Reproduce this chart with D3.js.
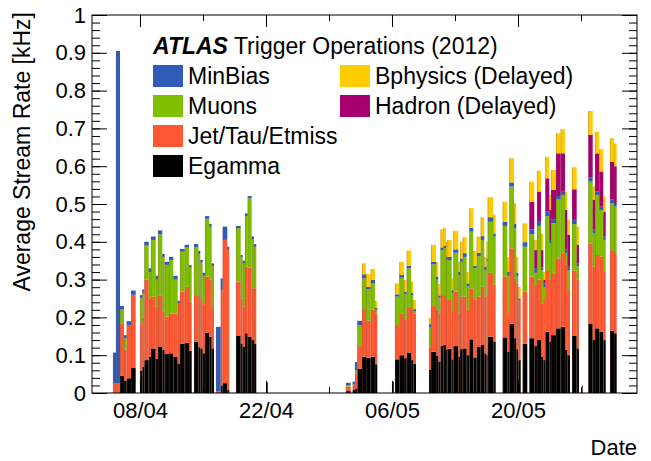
<!DOCTYPE html>
<html><head><meta charset="utf-8">
<script src="https://cdn.jsdelivr.net/npm/d3@7"></script>
<style>body{margin:0;background:#fff}svg{display:block}text{font-family:"Liberation Sans",Arial,Helvetica,sans-serif}</style>
</head><body><svg id="c" width="651" height="461"></svg>
<script>
// Run boundaries, in days of April 2012 (8.0 = 8 April 00:00; 31.0 = 1 May)
const runStart = [5.0,5.333,5.778,6.222,6.522,7.0,8.0,8.256,8.478,8.967,9.222,9.744,10.0,10.478,10.744,11.222,11.7,12.189,12.444,12.967,13.444,14.0,14.478,14.7,14.967,15.222,15.7,15.967,16.444,16.967,17.189,17.7,18.667,19.189,19.411,19.667,19.967,20.411,20.667,22.111,30.889,31.633,31.889,32.144,32.667,33.111,33.633,34.111,36.111,36.333,36.811,37.333,37.633,38.111,38.367,40.111,40.333,40.889,41.144,41.389,41.7,42.0,42.144,42.633,42.811,43.367,43.556,43.856,44.3,44.589,45.033,45.411,45.856,46.256,46.5,46.633,47.256,48.3,48.811,49.033,49.556,49.811,50.033,50.522,51.256,51.811,52.111,52.556,52.811,53.033,53.478,53.667,54.222,54.744,55.222,55.478,56.0,56.522,57.111,57.811,58.3,58.556,59.033,59.478,60.222,60.667];
const runEnd = [5.333,5.778,6.222,6.522,7.0,7.522,8.256,8.478,8.967,9.222,9.744,10.0,10.478,10.744,11.222,11.7,12.189,12.444,12.967,13.444,13.744,14.478,14.7,14.967,15.222,15.7,15.967,16.222,16.967,17.189,17.7,17.922,19.189,19.411,19.667,19.967,20.411,20.667,20.922,22.2,31.411,31.889,32.144,32.667,33.111,33.633,34.111,34.367,36.2,36.811,37.333,37.633,38.111,38.367,38.667,40.333,40.889,41.144,41.389,41.7,42.0,42.144,42.633,42.811,43.367,43.556,43.856,44.3,44.589,45.033,45.411,45.856,46.256,46.5,46.633,47.256,47.522,48.811,49.033,49.556,49.811,50.033,50.3,51.033,51.811,52.111,52.556,52.811,53.033,53.478,53.667,54.222,54.744,55.222,55.478,55.778,56.522,56.778,57.178,58.3,58.556,59.033,59.478,59.744,60.667,60.967];

// Average stream rates [kHz] per run
const egamma = [0,0,.046,.033,.039,.066,.059,.070,.087,.096,.118,.090,.123,.114,.103,.105,.096,.078,.130,.133,.112,.136,.121,.118,.105,.160,.149,.118,0,.020,.026,.008,.152,.131,.123,.158,.149,.140,.131,.028,.005,.008,.012,.064,.096,.093,.096,.076,.030,.089,.100,.092,.107,.087,.077,.061,.109,.098,.083,.125,.127,.115,.117,.089,.124,.096,.116,.118,.100,.142,.094,.123,.127,.105,.100,.149,.136,.147,.109,.183,.145,.116,.087,.130,.145,.124,.140,.096,.087,.162,.136,.153,.171,.175,.114,.100,.151,.118,.020,.184,.140,.171,.162,.140,.165,.158];
const jetTauEtmiss = [.026,.025,.138,.082,.141,.194,.125,.130,.213,.154,.137,.138,.134,.101,.099,.105,.114,.159,.138,.148,.130,.123,.138,.128,.130,.148,.151,.110,.005,.252,.379,.370,.143,.119,.105,.176,.183,.137,.146,0,.012,.012,.040,.060,.126,.098,.125,.134,0,.091,.111,.101,.121,.133,.133,.062,.121,.122,.127,.134,.132,.131,.129,.126,.144,.114,.139,.137,.120,.135,.154,.132,.154,.150,.160,.169,.150,.161,.102,.200,.158,.174,.159,.138,.163,.162,.160,.141,.159,.163,.164,.164,.185,.195,.225,.172,.173,.182,0,.212,.194,.194,.199,.180,.213,.212];
const muons = [0,0,.037,.030,0,0,.066,.065,.090,.070,.150,.072,.163,.145,.137,.142,.090,0,.106,.104,.090,.127,.109,.099,.075,.153,.140,.108,0,0,0,0,.141,.110,.115,.134,.183,.129,.110,0,.004,.002,.008,.056,.081,.083,.069,.010,0,.075,.094,.069,.102,.039,.006,.051,.110,.080,.042,.119,.124,.106,.106,.050,.103,.102,.092,.105,.062,.150,.082,.107,.124,.070,.090,.135,.128,.134,.099,.163,.133,.018,0,.119,.112,.032,.142,.088,.034,.143,.096,.132,.156,.154,.031,.053,.123,.035,0,.163,.088,.159,.123,.085,.124,.123];
const minBias = [.081,.880,.009,.008,.010,.011,.009,.009,.010,.010,.009,.010,.010,.008,.008,.008,.010,.007,.007,.007,.006,.008,.008,.007,.008,.007,.007,.007,.170,.031,.035,.009,.006,.005,.007,.007,.006,.008,.007,0,.006,.008,.022,.011,.011,.007,.009,.005,0,.006,.007,.006,.006,.006,.006,.008,.007,.008,.006,.007,.007,.008,.008,.007,.009,.008,.009,.010,.008,.010,.006,.009,.010,.009,.006,.012,.008,.011,.011,.011,.011,.010,.004,.012,.013,.012,.011,.007,.010,.012,.009,.011,.009,.010,.010,.009,.011,.008,0,.011,.011,.009,.009,.009,.010,.007];
const hadron = [0,0,0,0,0,0,0,0,0,0,0,0,0,0,0,0,0,0,0,0,0,0,0,0,0,0,0,0,0,0,0,0,0,0,0,0,0,0,0,0,0,0,0,0,0,0,0,0,0,0,0,0,0,0,0,0,0,0,0,0,0,0,0,0,0,0,0,0,0,0,0,0,0,0,0,0,0,0,0,0,0,0,0,0,.073,.048,.080,.046,.010,.088,.079,.077,.113,.100,.104,.084,.081,.049,0,.113,.078,.101,.093,.066,.100,.100];
const bphysics = [0,0,0,0,0,0,0,0,0,0,0,0,0,0,0,0,0,0,0,0,0,0,0,0,0,0,0,0,0,0,0,0,0,0,0,0,0,0,0,0,0,0,0,0,.029,.034,.029,.019,0,.029,.035,.031,.041,.030,.024,.016,.045,.039,.030,.048,.047,.040,.045,.031,.049,.027,.044,.042,.030,.052,.040,.043,.050,.026,.044,.053,.049,.053,.038,.064,.055,.043,.031,.050,.053,.027,.055,.044,.020,.057,.040,.053,.053,.064,.049,.040,.058,.048,0,.063,.035,.057,.059,.040,.062,.060];

const seriesKeys = ["egamma","jet","muons","minbias","hadron","bphys"];
const seriesLabels = {minbias:"MinBias",muons:"Muons",jet:"Jet/Tau/Etmiss",egamma:"Egamma",bphys:"Bphysics (Delayed)",hadron:"Hadron (Delayed)"};
const seriesColors = {egamma:"#000000",jet:"#ff5833",muons:"#7fbf00",minbias:"#2e5cb8",hadron:"#a8006e",bphys:"#ffcc00"};
const legendCol1 = ["minbias","muons","jet","egamma"];
const legendCol2 = ["bphys","hadron"];

const xDomainDays = [2.667, 63.222];
const xMajorTicks = ["2012-04-08","2012-04-22","2012-05-06","2012-05-20"];
const xMinorTicks = ["2012-04-01","2012-04-15","2012-04-29","2012-05-13","2012-05-27"];
const yMajorTicks = [0,0.1,0.2,0.3,0.4,0.5,0.6,0.7,0.8,0.9,1];

const dayToDate = d => new Date(Date.UTC(2012,3,1) + (d-1)*864e5);
const rows = runStart.map((s,i)=>({start:dayToDate(s), end:dayToDate(runEnd[i]),
  egamma:egamma[i], jet:jetTauEtmiss[i], muons:muons[i], minbias:minBias[i], hadron:hadron[i], bphys:bphysics[i]}));

const L=92, R=637, T=15, B=393;
const svg = d3.select("#c");
const x = d3.scaleUtc().domain(xDomainDays.map(dayToDate)).range([L,R]);
const y = d3.scaleLinear().domain([0,1]).range([B,T]);

const stacked = d3.stack().keys(seriesKeys)(rows);
const g = svg.append("g");
stacked.forEach(layer=>{
  g.append("g").attr("fill",seriesColors[layer.key]).selectAll("rect").data(layer).join("rect")
    .attr("x",d=>x(d.data.start)).attr("width",d=>Math.max(0.6,x(d.data.end)-x(d.data.start)))
    .attr("y",d=>y(d[1])).attr("height",d=>Math.max(0,y(d[0])-y(d[1])));
});
// thin histogram edges
const topLayer = stacked[stacked.length-1];
g.append("g").selectAll("line").data(topLayer).join("line")
  .attr("x1",d=>x(d.data.start)+0.3).attr("x2",d=>x(d.data.start)+0.3)
  .attr("y1",y(0)).attr("y2",d=>y(d[1]))
  .attr("stroke","#7a5a48").attr("stroke-width",0.6).attr("stroke-opacity",0.55);

// axes
const fs = "22px", fl = "23px";
function style(sel){ sel.select(".domain").remove(); sel.selectAll("line").attr("stroke","#000"); sel.selectAll("text").attr("font-size",fs).attr("fill","#000").attr("font-family",'"Liberation Sans",Arial,sans-serif'); }
svg.append("g").attr("transform",`translate(${L},0)`).call(d3.axisLeft(y).tickValues(yMajorTicks).tickSize(-15).tickPadding(6).tickFormat(d3.format("~g"))).call(style);
svg.append("g").attr("transform",`translate(${L},0)`).call(d3.axisLeft(y).tickValues(d3.range(0,1.0001,0.02)).tickSize(-8).tickFormat("")).call(style);
svg.append("g").attr("transform",`translate(${R},0)`).call(d3.axisRight(y).tickValues(yMajorTicks).tickSize(-15).tickFormat("")).call(style);
svg.append("g").attr("transform",`translate(${R},0)`).call(d3.axisRight(y).tickValues(d3.range(0,1.0001,0.02)).tickSize(-8).tickFormat("")).call(style);
const xMaj = xMajorTicks.map(s=>new Date(s+"T00:00:00Z"));
const xMin = xMinorTicks.map(s=>new Date(s+"T00:00:00Z")).filter(d=>d>=x.domain()[0]&&d<=x.domain()[1]);
svg.append("g").attr("transform",`translate(0,${B})`).call(d3.axisBottom(x).tickValues(xMaj).tickSize(-12).tickPadding(9).tickFormat(d3.utcFormat("%d/%m"))).call(style);
svg.append("g").attr("transform",`translate(0,${B})`).call(d3.axisBottom(x).tickValues(xMin).tickSize(-6).tickFormat("")).call(style);
svg.append("g").attr("transform",`translate(0,${T})`).call(d3.axisTop(x).tickValues(xMaj).tickSize(-12).tickFormat("")).call(style);
svg.append("g").attr("transform",`translate(0,${T})`).call(d3.axisTop(x).tickValues(xMin).tickSize(-6).tickFormat("")).call(style);
svg.append("rect").attr("x",L).attr("y",T).attr("width",R-L).attr("height",B-T).attr("fill","none").attr("stroke","#000").attr("stroke-width",1);

// axis titles
svg.append("text").attr("transform","translate(30,12) rotate(-90)").attr("text-anchor","end").attr("font-size",fl).text("Average Stream Rate [kHz]");
svg.append("text").attr("x",637).attr("y",455).attr("text-anchor","end").attr("font-size",fs).text("Date");

// legend
const title = svg.append("text").attr("x",153).attr("y",54).attr("font-size",fl);
title.append("tspan").attr("font-weight","bold").attr("font-style","italic").text("ATLAS");
title.append("tspan").text(" Trigger Operations (2012)");
function legendCol(keys, bx){
  keys.forEach((k,i)=>{
    svg.append("rect").attr("x",bx).attr("y",65+i*30).attr("width",30).attr("height",22).attr("fill",seriesColors[k]);
    svg.append("text").attr("x",bx+35).attr("y",84+i*30).attr("font-size",fl).text(seriesLabels[k]);
  });
}
legendCol(legendCol1,153);
legendCol(legendCol2,340);
</script></body></html>
